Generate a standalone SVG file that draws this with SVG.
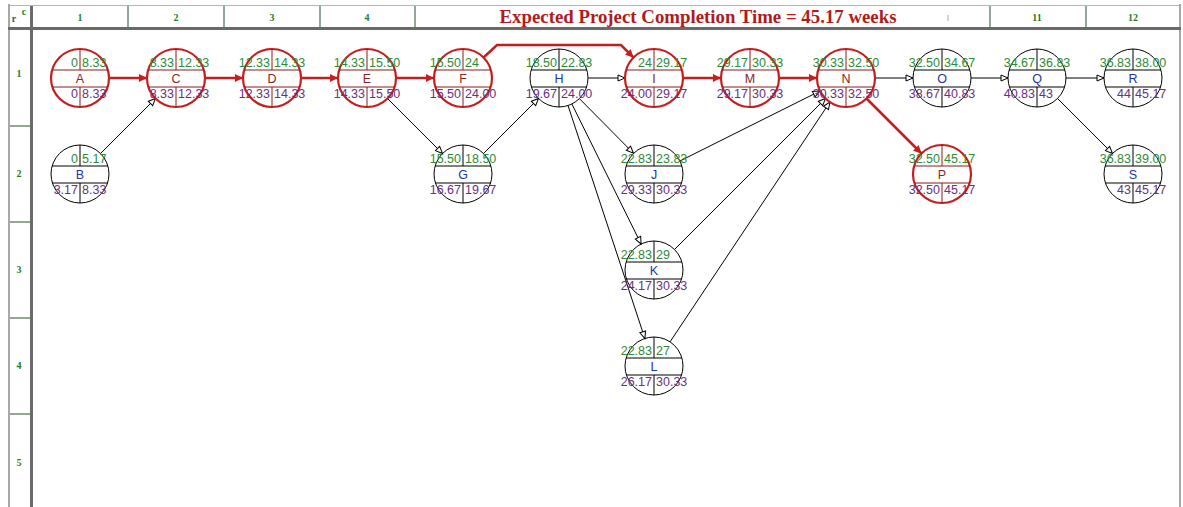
<svg xmlns="http://www.w3.org/2000/svg" width="1183" height="507" viewBox="0 0 1183 507">
<style>
.node circle{fill:none;stroke:#000;stroke-width:1}
.node path{fill:none;stroke:#000;stroke-width:1}
.crit circle{stroke:#c41e1e;stroke-width:2.2}
.crit path{stroke:#8a1c1c}
.node text{font-family:"Liberation Sans",Arial,sans-serif;font-size:12.5px}
.es,.ls{text-anchor:end}
.es,.ef{fill:#2e8a36}
.ls,.lf{fill:#6a2f82}
.nm{text-anchor:middle;fill:#23359e}
.crit .nm{fill:#8a2424}
.hd{font-family:"Liberation Serif","Times New Roman",serif;font-size:10px;font-weight:bold;fill:#2a7a2a;text-anchor:middle}
.red{fill:none;stroke:#c41e1e;stroke-width:2.5;marker-end:url(#ar)}
.thin{fill:none;stroke:#000;stroke-width:1;marker-end:url(#at)}
</style>
<defs>
<marker id="ar" markerWidth="10" markerHeight="10" refX="9" refY="5" orient="auto" markerUnits="userSpaceOnUse"><path d="M1,1 L9,5 L1,9 Z" fill="#c41e1e"/></marker>
<marker id="at" markerWidth="10" markerHeight="10" refX="8" refY="4" orient="auto" markerUnits="userSpaceOnUse"><path d="M1,1 L8,4 L1,7 Z" fill="#fff" stroke="#000" stroke-width="1"/></marker>
</defs>
<rect width="1183" height="507" fill="#fff"/>
<g id="grid">
<line x1="8" y1="5.5" x2="1181" y2="5.5" stroke="#b4b4b4" stroke-width="1"/>
<rect x="8" y="4" width="2" height="503" fill="#a8a8a8"/>
<rect x="1179" y="4" width="2" height="503" fill="#a8a8a8"/>
<rect x="8" y="27" width="1173" height="3" fill="#6a6a6a"/>
<rect x="30" y="6" width="3" height="501" fill="#6a6a6a"/>
<g stroke="#4f6b4f" stroke-width="1.2">
<line x1="128" y1="6" x2="128" y2="27"/>
<line x1="224" y1="6" x2="224" y2="27"/>
<line x1="320" y1="6" x2="320" y2="27"/>
<line x1="415" y1="6" x2="415" y2="27"/>
<line x1="990" y1="6" x2="990" y2="27"/>
<line x1="1086" y1="6" x2="1086" y2="27"/>
<line x1="10" y1="126" x2="30" y2="126"/>
<line x1="10" y1="222" x2="30" y2="222"/>
<line x1="10" y1="318" x2="30" y2="318"/>
<line x1="10" y1="414" x2="30" y2="414"/>
</g>
<text x="14" y="22" class="hd" style="fill:#555">r</text>
<text x="24" y="15" class="hd">c</text>
<text x="80" y="21" class="hd">1</text>
<text x="176" y="21" class="hd">2</text>
<text x="272" y="21" class="hd">3</text>
<text x="367" y="21" class="hd">4</text>
<text x="1037" y="21" class="hd">11</text>
<text x="1133" y="21" class="hd">12</text>
<line x1="948" y1="15" x2="948" y2="21" stroke="#9ab" stroke-width="1"/>
<text x="19" y="77" class="hd">1</text>
<text x="19" y="177" class="hd">2</text>
<text x="19" y="273" class="hd">3</text>
<text x="19" y="369" class="hd">4</text>
<text x="19" y="466" class="hd">5</text>
<text x="698" y="23" font-family="'Liberation Serif','Times New Roman',serif" font-size="18" font-weight="bold" fill="#b01c1c" text-anchor="middle" textLength="397" lengthAdjust="spacingAndGlyphs">Expected Project Completion Time = 45.17 weeks</text>
</g>
<g id="connectors">
<path class="red" d="M109,78 H147"/>
<path class="red" d="M205,78 H243"/>
<path class="red" d="M301,78 H338"/>
<path class="red" d="M396,78 H434"/>
<path class="red" d="M483.5,57.5 L497,45 H621 L633.5,57.5"/>
<path class="red" d="M683,78 H721"/>
<path class="red" d="M779,78 H817"/>
<path class="red" d="M866.5,98.5 L921.5,153.5"/>
<path class="thin" d="M100.5,153.5 L155.5,98.5"/>
<path class="thin" d="M387.5,98.5 L442.5,153.5"/>
<path class="thin" d="M483.5,153.5 L538.5,98.5"/>
<path class="thin" d="M588,78 H625"/>
<path class="thin" d="M579.6,98.8 L633.4,153.2"/>
<path class="thin" d="M571.9,104 L641.1,244"/>
<path class="thin" d="M568,105.5 L644.9,338.5"/>
<path class="thin" d="M679.9,161 L820,91"/>
<path class="thin" d="M674.5,249.5 L825.5,98.5"/>
<path class="thin" d="M670,341.9 L829.9,102.1"/>
<path class="thin" d="M875,78 H913"/>
<path class="thin" d="M971,78 H1008"/>
<path class="thin" d="M1066,78 H1104"/>
<path class="thin" d="M1057.5,98.5 L1112.5,153.5"/>
</g>
<g id="node-A" class="node crit" transform="translate(80,78)"><circle r="29"/><path d="M-27.9,-8H27.9M-27.6,9H27.6M0,-29V-8M0,9V29"/><text class="es" x="-2" y="-11">0</text><text class="ef" x="2" y="-11">8.33</text><text class="nm" x="0" y="5">A</text><text class="ls" x="-2" y="20">0</text><text class="lf" x="2" y="20">8.33</text></g>
<g id="node-B" class="node" transform="translate(80,174)"><circle r="29"/><path d="M-27.9,-8H27.9M-27.6,9H27.6M0,-29V-8M0,9V29"/><text class="es" x="-2" y="-11">0</text><text class="ef" x="2" y="-11">5.17</text><text class="nm" x="0" y="5">B</text><text class="ls" x="-2" y="20">3.17</text><text class="lf" x="2" y="20">8.33</text></g>
<g id="node-C" class="node crit" transform="translate(176,78)"><circle r="29"/><path d="M-27.9,-8H27.9M-27.6,9H27.6M0,-29V-8M0,9V29"/><text class="es" x="-2" y="-11">8.33</text><text class="ef" x="2" y="-11">12.33</text><text class="nm" x="0" y="5">C</text><text class="ls" x="-2" y="20">8.33</text><text class="lf" x="2" y="20">12.33</text></g>
<g id="node-D" class="node crit" transform="translate(272,78)"><circle r="29"/><path d="M-27.9,-8H27.9M-27.6,9H27.6M0,-29V-8M0,9V29"/><text class="es" x="-2" y="-11">12.33</text><text class="ef" x="2" y="-11">14.33</text><text class="nm" x="0" y="5">D</text><text class="ls" x="-2" y="20">12.33</text><text class="lf" x="2" y="20">14.33</text></g>
<g id="node-E" class="node crit" transform="translate(367,78)"><circle r="29"/><path d="M-27.9,-8H27.9M-27.6,9H27.6M0,-29V-8M0,9V29"/><text class="es" x="-2" y="-11">14.33</text><text class="ef" x="2" y="-11">15.50</text><text class="nm" x="0" y="5">E</text><text class="ls" x="-2" y="20">14.33</text><text class="lf" x="2" y="20">15.50</text></g>
<g id="node-F" class="node crit" transform="translate(463,78)"><circle r="29"/><path d="M-27.9,-8H27.9M-27.6,9H27.6M0,-29V-8M0,9V29"/><text class="es" x="-2" y="-11">15.50</text><text class="ef" x="2" y="-11">24</text><text class="nm" x="0" y="5">F</text><text class="ls" x="-2" y="20">15.50</text><text class="lf" x="2" y="20">24.00</text></g>
<g id="node-G" class="node" transform="translate(463,174)"><circle r="29"/><path d="M-27.9,-8H27.9M-27.6,9H27.6M0,-29V-8M0,9V29"/><text class="es" x="-2" y="-11">15.50</text><text class="ef" x="2" y="-11">18.50</text><text class="nm" x="0" y="5">G</text><text class="ls" x="-2" y="20">16.67</text><text class="lf" x="2" y="20">19.67</text></g>
<g id="node-H" class="node" transform="translate(559,78)"><circle r="29"/><path d="M-27.9,-8H27.9M-27.6,9H27.6M0,-29V-8M0,9V29"/><text class="es" x="-2" y="-11">18.50</text><text class="ef" x="2" y="-11">22.83</text><text class="nm" x="0" y="5">H</text><text class="ls" x="-2" y="20">19.67</text><text class="lf" x="2" y="20">24.00</text></g>
<g id="node-I" class="node crit" transform="translate(654,78)"><circle r="29"/><path d="M-27.9,-8H27.9M-27.6,9H27.6M0,-29V-8M0,9V29"/><text class="es" x="-2" y="-11">24</text><text class="ef" x="2" y="-11">29.17</text><text class="nm" x="0" y="5">I</text><text class="ls" x="-2" y="20">24.00</text><text class="lf" x="2" y="20">29.17</text></g>
<g id="node-J" class="node" transform="translate(654,174)"><circle r="29"/><path d="M-27.9,-8H27.9M-27.6,9H27.6M0,-29V-8M0,9V29"/><text class="es" x="-2" y="-11">22.83</text><text class="ef" x="2" y="-11">23.83</text><text class="nm" x="0" y="5">J</text><text class="ls" x="-2" y="20">29.33</text><text class="lf" x="2" y="20">30.33</text></g>
<g id="node-K" class="node" transform="translate(654,270)"><circle r="29"/><path d="M-27.9,-8H27.9M-27.6,9H27.6M0,-29V-8M0,9V29"/><text class="es" x="-2" y="-11">22.83</text><text class="ef" x="2" y="-11">29</text><text class="nm" x="0" y="5">K</text><text class="ls" x="-2" y="20">24.17</text><text class="lf" x="2" y="20">30.33</text></g>
<g id="node-L" class="node" transform="translate(654,366)"><circle r="29"/><path d="M-27.9,-8H27.9M-27.6,9H27.6M0,-29V-8M0,9V29"/><text class="es" x="-2" y="-11">22.83</text><text class="ef" x="2" y="-11">27</text><text class="nm" x="0" y="5">L</text><text class="ls" x="-2" y="20">26.17</text><text class="lf" x="2" y="20">30.33</text></g>
<g id="node-M" class="node crit" transform="translate(750,78)"><circle r="29"/><path d="M-27.9,-8H27.9M-27.6,9H27.6M0,-29V-8M0,9V29"/><text class="es" x="-2" y="-11">29.17</text><text class="ef" x="2" y="-11">30.33</text><text class="nm" x="0" y="5">M</text><text class="ls" x="-2" y="20">29.17</text><text class="lf" x="2" y="20">30.33</text></g>
<g id="node-N" class="node crit" transform="translate(846,78)"><circle r="29"/><path d="M-27.9,-8H27.9M-27.6,9H27.6M0,-29V-8M0,9V29"/><text class="es" x="-2" y="-11">30.33</text><text class="ef" x="2" y="-11">32.50</text><text class="nm" x="0" y="5">N</text><text class="ls" x="-2" y="20">30.33</text><text class="lf" x="2" y="20">32.50</text></g>
<g id="node-O" class="node" transform="translate(942,78)"><circle r="29"/><path d="M-27.9,-8H27.9M-27.6,9H27.6M0,-29V-8M0,9V29"/><text class="es" x="-2" y="-11">32.50</text><text class="ef" x="2" y="-11">34.67</text><text class="nm" x="0" y="5">O</text><text class="ls" x="-2" y="20">38.67</text><text class="lf" x="2" y="20">40.83</text></g>
<g id="node-P" class="node crit" transform="translate(942,174)"><circle r="29"/><path d="M-27.9,-8H27.9M-27.6,9H27.6M0,-29V-8M0,9V29"/><text class="es" x="-2" y="-11">32.50</text><text class="ef" x="2" y="-11">45.17</text><text class="nm" x="0" y="5">P</text><text class="ls" x="-2" y="20">32.50</text><text class="lf" x="2" y="20">45.17</text></g>
<g id="node-Q" class="node" transform="translate(1037,78)"><circle r="29"/><path d="M-27.9,-8H27.9M-27.6,9H27.6M0,-29V-8M0,9V29"/><text class="es" x="-2" y="-11">34.67</text><text class="ef" x="2" y="-11">36.83</text><text class="nm" x="0" y="5">Q</text><text class="ls" x="-2" y="20">40.83</text><text class="lf" x="2" y="20">43</text></g>
<g id="node-R" class="node" transform="translate(1133,78)"><circle r="29"/><path d="M-27.9,-8H27.9M-27.6,9H27.6M0,-29V-8M0,9V29"/><text class="es" x="-2" y="-11">36.83</text><text class="ef" x="2" y="-11">38.00</text><text class="nm" x="0" y="5">R</text><text class="ls" x="-2" y="20">44</text><text class="lf" x="2" y="20">45.17</text></g>
<g id="node-S" class="node" transform="translate(1133,174)"><circle r="29"/><path d="M-27.9,-8H27.9M-27.6,9H27.6M0,-29V-8M0,9V29"/><text class="es" x="-2" y="-11">36.83</text><text class="ef" x="2" y="-11">39.00</text><text class="nm" x="0" y="5">S</text><text class="ls" x="-2" y="20">43</text><text class="lf" x="2" y="20">45.17</text></g>
</svg>
